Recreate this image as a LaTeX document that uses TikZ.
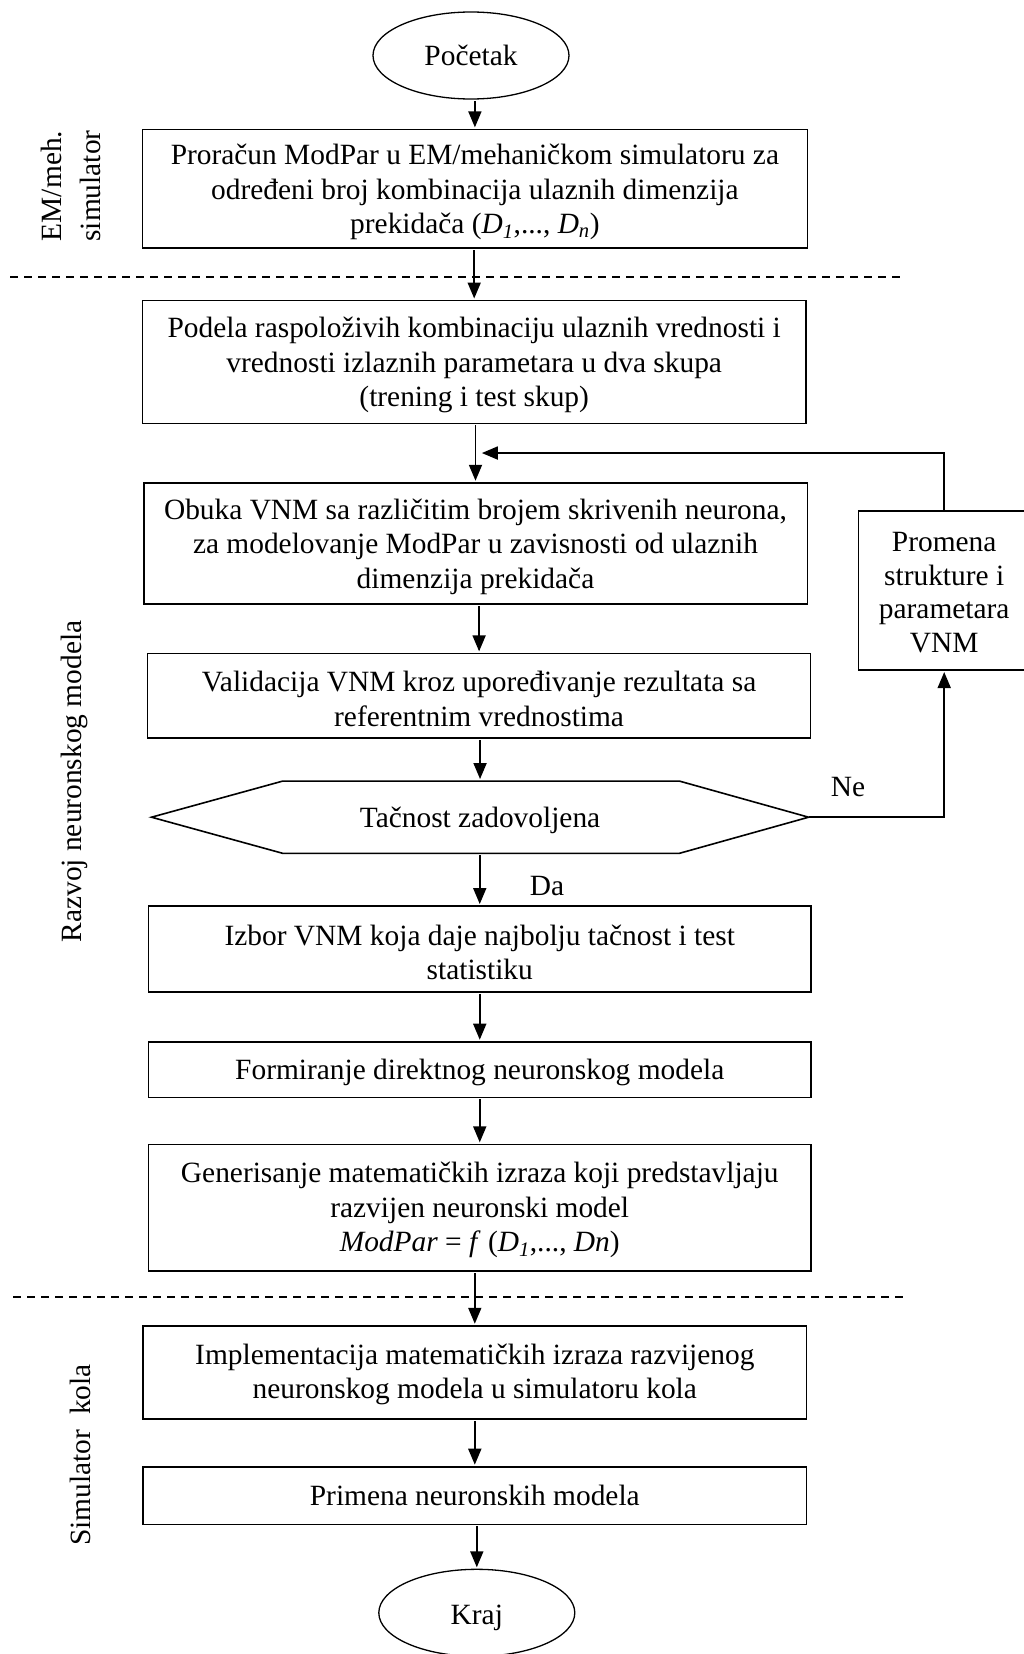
\documentclass[tikz,border=0pt]{standalone}
\usepackage{fontspec}
\setmainfont{Liberation Serif}
\usetikzlibrary{arrows.meta,calc,shapes.geometric}

% invisible strut that sets the height of a node's first line
\newcommand\firstline[1][27pt]{\rule{0pt}{#1}}

\begin{document}
\begin{tikzpicture}[x=1pt,y=-1pt,
  every node/.style={inner sep=0pt, outer sep=0pt},
  txt/.style={font=\fontsize{29.4}{34.5}\selectfont},
  procbox/.style 2 args={txt, draw, line width=1.6pt, align=center,
    minimum width=#1, minimum height=#2},
  term/.style={txt, draw, ellipse, line width=1.3pt,
    minimum width=196, minimum height=87},
  arr/.style={line width=1.8pt, -{Triangle[length=16pt,width=13pt]},
    shorten <=2pt, shorten >=2pt},
  sepline/.style={line width=1.6pt, dash pattern=on 8pt off 6pt},
  sidelabel/.style={txt, rotate=90, anchor=base}
]
\useasboundingbox (0,0) rectangle (1024,1654);

% start / end
\node[term] (start) at (471,55.5) {Početak};

% EM stage
\node[procbox={664.9}{118.7}] (b1) at (474.9,188.7)
  {\firstline Proračun ModPar u EM/mehaničkom simulatoru za\\
   određeni broj kombinacija ulaznih dimenzija\\
   prekidača (\textit{D}\textsubscript{\textit{1}},..., \textit{D}\textsubscript{\textit{n}})};

% neural model development stage
\node[procbox={663.6}{122.8}] (b2) at (474.2,361.9)
  {\firstline Podela raspoloživih kombinaciju ulaznih vrednosti i\\
   vrednosti izlaznih parametara u dva skupa\\
   (trening i test skup)};
\node[procbox={663.6}{121.3}] (b3) at (475.5,543.4)
  {\firstline Obuka VNM sa različitim brojem skrivenih neurona,\\
   za modelovanje ModPar u zavisnosti od ulaznih\\
   dimenzija prekidača};
\node[procbox={663}{84.7}] (b4) at (479.1,695.7)
  {\firstline Validacija VNM kroz upoređivanje rezultata sa\\
   referentnim vrednostima};

% decision (hexagon drawn around an invisible node)
\node[txt, minimum width=657.1, minimum height=72.3] (dec) at (480.05,817.2)
  {\firstline Tačnost zadovoljena};
\draw[line width=1.6pt]
  (dec.west) -- ($(dec.north west)+(131.3,0)$) -- ($(dec.north east)+(-129.3,0)$)
  -- (dec.east) -- ($(dec.south east)+(-129.3,0)$) -- ($(dec.south west)+(131.3,0)$)
  -- cycle;

\node[procbox={662.9}{85.7}] (b5) at (479.75,948.9)
  {\firstline Izbor VNM koja daje najbolju tačnost i test\\ statistiku};
\node[procbox={662.9}{55.6}] (b6) at (479.75,1069.5)
  {\firstline Formiranje direktnog neuronskog modela};
\node[procbox={662.9}{126.7}] (b7) at (479.75,1207.7)
  {\firstline[25pt]Generisanje matematičkih izraza koji predstavljaju\\
   razvijen neuronski model\\
   \textit{ModPar} = \textit{f} (\textit{D}\textsubscript{\textit{1}},..., \textit{Dn})};

% circuit simulator stage
\node[procbox={663.6}{93.3}] (b8) at (474.8,1372.4)
  {\firstline[25pt]Implementacija matematičkih izraza razvijenog\\
   neuronskog modela u simulatoru kola};
\node[procbox={663.6}{57.6}] (b9) at (474.8,1495.5)
  {Primena neuronskih modela};
\node[term] (end) at (476.8,1612.8) {\firstline[29pt]Kraj};

% feedback box
\node[procbox={171.7}{159.3}, font=\fontsize{29.4}{33.7}\selectfont] (prom) at (944.2,590.4)
  {\firstline[23.5pt]Promena\\ strukture i\\ parametara\\ VNM};

% stage separators
\draw[sepline] (10,277) -- (902,277);
\draw[sepline] (13,1296.7) -- (904.6,1296.7);

% stage labels
\node[sidelabel] (labema) at (61.7,186) {EM/meh.};
\node[sidelabel] (labemb) at (100,186) {simulator};
\node[sidelabel] (labrnm) at (81.7,781.5) {Razvoj neuronskog modela};
\node[sidelabel] (labsim) at (90,1455) {Simulator\ \ kola};

% main flow
\draw[arr] (start.south -| b1.north) -- (b1.north);
\draw[arr] (b1.south -| b2.north) -- (b2.north);
\draw[arr] (b2.south -| b3.north) -- (b3.north);
\draw[arr] (b3.south -| b4.north) -- (b4.north);
\draw[arr] (b4.south -| dec.north) -- (dec.north);
\draw[arr] (dec.south -| b5.north) -- (b5.north);
\draw[arr] (b5.south -| b6.north) -- (b6.north);
\draw[arr] (b6.south -| b7.north) -- (b7.north);
\draw[arr] (b7.south -| b8.north) -- (b8.north);
\draw[arr] (b8.south -| b9.north) -- (b9.north);
\draw[arr] (b9.south -| end.north) -- (end.north);

% loop back
\coordinate (fb) at ($(b2.south)!0.5!(b3.north)$);
\draw[arr, shorten <=0pt, shorten >=7pt] (prom.north) |- (fb);
\draw[arr, shorten <=0pt] (dec.east) -| (prom.south);

% branch labels
\node[txt] (ne) at (848,786.7) {Ne};
\node[txt] (da) at (547,886) {Da};
\end{tikzpicture}
\end{document}
